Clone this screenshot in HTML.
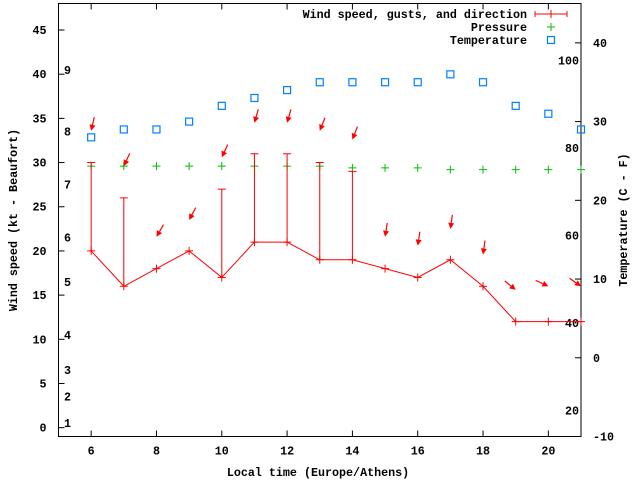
<!DOCTYPE html>
<html><head><meta charset="utf-8"><style>
body{margin:0;background:#fff}
text{font-family:"Liberation Mono",monospace;font-size:11.7px;font-weight:bold;fill:#000}
</style></head><body>
<svg id="chart" width="640" height="480" xmlns="http://www.w3.org/2000/svg">
<g id="axes"></g>
<g id="marks"></g>
<g id="legend">
<text x="527" y="18" text-anchor="end">Wind speed, gusts, and direction</text>
<line x1="535" y1="14" x2="567" y2="14" stroke="#f00"/>
<line x1="535" y1="11" x2="535" y2="17" stroke="#f00"/><line x1="567" y1="11" x2="567" y2="17" stroke="#f00"/><line x1="551" y1="10" x2="551" y2="18" stroke="#f00"/>
<text x="527" y="31" text-anchor="end">Pressure</text>
<path d="M547 27h8M551 23v8" stroke="#00c000"/>
<text x="527" y="44" text-anchor="end">Temperature</text>
<rect x="547.5" y="36.5" width="7" height="7" fill="none" stroke="#0080ff" stroke-width="1.2"/>
</g>
<text x="0" y="0" transform="translate(17,220) rotate(-90)" text-anchor="middle">Wind speed (kt - Beaufort)</text>
<text x="0" y="0" transform="translate(627,220) rotate(-90)" text-anchor="middle">Temperature (C - F)</text>
<text x="318" y="476" text-anchor="middle">Local time (Europe/Athens)</text>
</svg>
<script>
const hours=[6,7,8,9,10,11,12,13,14,15,16,17,18,19,20,21];
const windSpeed=[20,16,18,20,17,21,21,19,19,18,17,19,16,12,12,12];
const gusts=[30,26,null,null,27,31,31,30,29,null,null,null,null,null,null,null];
const pressure=[29.6,29.6,29.6,29.6,29.6,29.6,29.6,29.6,29.4,29.4,29.4,29.2,29.2,29.2,29.2,29.2];
const tempC=[28,29,29,30,32,33,34,35,35,35,35,36,35,32,31,29];
const windDir=[13,25,30,28,25,16,16,22,21,9,9,8,8,309,295,305];
const arrowY=[33.6,29.6,21.6,23.5,30.6,34.5,34.5,33.6,32.6,21.6,20.6,22.5,19.6,15.6,16,16];
const xTicks=[6,8,10,12,14,16,18,20];
const yTicks=[0,5,10,15,20,25,30,35,40,45];
const y2Ticks=[-10,0,10,20,30,40];
const fLabels=[20,40,60,80,100];
const beaufortLabels=[1,2,3,4,5,6,7,8,9];
const beaufortKt=[0.5,3.5,6.5,10.5,16.5,21.5,27.5,33.5,40.5];

const L=58.5,R=581,T=3.5,B=436.5;
const X=v=>L+(v-5)/(21-5)*(R-L);
const Y=v=>B-(v+1)/(48+1)*(B-T);
const Y2=v=>B-(v+10)/(45+10)*(B-T);
const NS="http://www.w3.org/2000/svg";
function mk(tag,attrs,parent){const e=document.createElementNS(NS,tag);for(const k in attrs)e.setAttribute(k,attrs[k]);parent.appendChild(e);return e;}
const ax=document.getElementById('axes'),mg=document.getElementById('marks');
let e=mk('rect',{x:L,y:T,width:R-L,height:B-T,fill:'none',stroke:'#000'},ax);


xTicks.forEach(v=>{const x=X(v);
 mk('line',{x1:x,y1:B,x2:x,y2:B-6,stroke:'#000'},ax);
 mk('line',{x1:x,y1:T,x2:x,y2:T+6,stroke:'#000'},ax);
 const t=mk('text',{x:x,y:B+18,'text-anchor':'middle'},ax);t.textContent=v;
 
 });
yTicks.forEach(v=>{const y=Y(v);
 mk('line',{x1:L,y1:y,x2:L+6,y2:y,stroke:'#000'},ax);
 const t=mk('text',{x:L-12,y:y+4,'text-anchor':'end'},ax);t.textContent=v;
 
 });
y2Ticks.forEach(v=>{const y=Y2(v);
 mk('line',{x1:R,y1:y,x2:R-6,y2:y,stroke:'#000'},ax);
 const t=mk('text',{x:R+12,y:y+4,'text-anchor':'start'},ax);t.textContent=v;
 
 });
fLabels.forEach(v=>{const y=Y2((v-32)*5/9);
 const t=mk('text',{x:R-2,y:y+4,'text-anchor':'end'},ax);t.textContent=v;
 
 });
beaufortLabels.forEach((v,i)=>{const y=Y(beaufortKt[i]);
 const t=mk('text',{x:64,y:y+4},ax);t.textContent=v;
 
 });
// temperature
hours.forEach((h,i)=>{const x=X(h),y=Y2(tempC[i]);
 const r=mk('rect',{x:x-3.5,y:y-3.5,width:7,height:7,fill:'none',stroke:'#0080ff','stroke-width':1.2},mg);
 
 });
// pressure
hours.forEach((h,i)=>{const x=X(h),y=Y(pressure[i]);
 const p=mk('path',{d:`M${x-4} ${y}h8M${x} ${y-4}v8`,stroke:'#00c000'},mg);
 
 });
// gust bars
hours.forEach((h,i)=>{if(gusts[i]==null)return;const x=X(h),y1=Y(windSpeed[i]),y2=Y(gusts[i]);
 const p=mk('path',{d:`M${x} ${y1}V${y2}M${x-4} ${y2}h8`,stroke:'#f00',fill:'none'},mg);
 
 });
// wind line
const pl=mk('polyline',{points:hours.map((h,i)=>X(h)+','+Y(windSpeed[i])).join(' '),fill:'none',stroke:'#f00'},mg);


hours.forEach((h,i)=>{const x=X(h),y=Y(windSpeed[i]);
 const p=mk('path',{d:`M${x-4} ${y}h8M${x} ${y-4}v8`,stroke:'#f00'},mg);
 
 });
// direction arrows
hours.forEach((h,i)=>{const hx=X(h),hy=Y(arrowY[i]);const a=windDir[i]*Math.PI/180,len=14;
 const dx=Math.sin(a),dy=-Math.cos(a);const tx=hx+dx*len,ty=hy+dy*len;
 const bx=hx+dx*6,by=hy+dy*6,px=-dy*3,py=dx*3;
 const g=mk('g',{},mg);
 
 
 mk('line',{x1:tx,y1:ty,x2:bx,y2:by,stroke:'#f00','stroke-width':1.2},g);
 mk('polygon',{points:`${hx},${hy} ${bx+px},${by+py} ${bx-px},${by-py}`,fill:'#f00'},g);});
</script>
</body></html>
